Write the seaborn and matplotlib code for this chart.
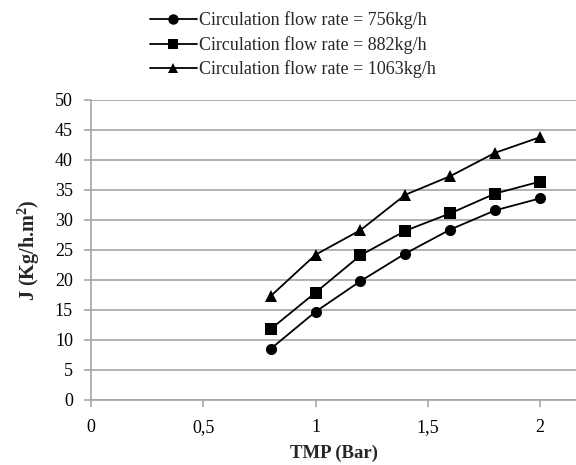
import matplotlib
matplotlib.use("Agg")
import matplotlib.pyplot as plt
import seaborn as sns
import pandas as pd
from matplotlib.ticker import FuncFormatter

tmp = [0.8, 1.0, 1.2, 1.4, 1.6, 1.8, 2.0]
flux_756 = [8.5, 14.7, 19.8, 24.4, 28.4, 31.6, 33.6]
flux_882 = [11.8, 17.9, 24.1, 28.2, 31.1, 34.4, 36.4]
flux_1063 = [17.3, 24.2, 28.3, 34.2, 37.3, 41.2, 43.8]
labels = ["Circulation flow rate = 756kg/h",
          "Circulation flow rate = 882kg/h",
          "Circulation flow rate = 1063kg/h"]

df = pd.concat([
    pd.DataFrame({"TMP": tmp, "J": flux_756, "series": labels[0]}),
    pd.DataFrame({"TMP": tmp, "J": flux_882, "series": labels[1]}),
    pd.DataFrame({"TMP": tmp, "J": flux_1063, "series": labels[2]}),
])

sns.set_theme(style="white")
plt.rcParams['font.family'] = ['Liberation Serif', 'DejaVu Serif']
plt.rcParams['mathtext.fontset'] = 'custom'
plt.rcParams['mathtext.bf'] = 'Liberation Serif:bold'
plt.rcParams['mathtext.rm'] = 'Liberation Serif'

fig = plt.figure(figsize=(5.76, 4.65), dpi=100)
ax = fig.add_axes([0.158, 0.140, 0.842, 0.645])

sns.lineplot(data=df, x="TMP", y="J", hue="series", style="series",
             palette=["black"] * 3, markers=["o", "s", "^"], dashes=False,
             markersize=8, linewidth=1.3, markeredgewidth=0, ax=ax, legend=True)

ax.set_xlim(0, 2.16)
ax.set_ylim(0, 50)
ax.set_yticks(range(0, 51, 5))
ax.set_xticks([0, 0.5, 1, 1.5, 2])
ax.xaxis.set_major_formatter(FuncFormatter(lambda v, p: ("%g" % v).replace(".", ",")))
ax.yaxis.grid(True, color="#a6a6a6", linewidth=1.2)
ax.xaxis.grid(False)
for s in ["top", "right"]:
    ax.spines[s].set_visible(False)
for s in ["left", "bottom"]:
    ax.spines[s].set_color("#a6a6a6")
    ax.spines[s].set_linewidth(1.2)
ax.tick_params(axis="both", which="major", direction="out", length=5, width=1.2,
               color="#a6a6a6", labelsize=13, labelcolor="black")
ax.tick_params(axis="y", pad=8)
ax.tick_params(axis="x", pad=9)
ax.tick_params(left=True, bottom=True)

ax.set_xlabel("TMP (Bar)", fontsize=13.5, fontweight="bold", labelpad=6)
ax.set_ylabel("J (Kg/h.m$\\mathbf{^{2}}$)", fontsize=14.5, fontweight="bold", labelpad=9)

handles, labs = ax.get_legend_handles_labels()
ax.get_legend().remove()
for h in handles:
    h.set_markersize(7.5)
leg = fig.legend(handles, labs, loc="upper left", bbox_to_anchor=(0.232, 1.01),
                 frameon=False, fontsize=13, handlelength=2.6, handletextpad=0.1,
                 labelspacing=0.36)

fig.savefig("out.png", dpi=100)
